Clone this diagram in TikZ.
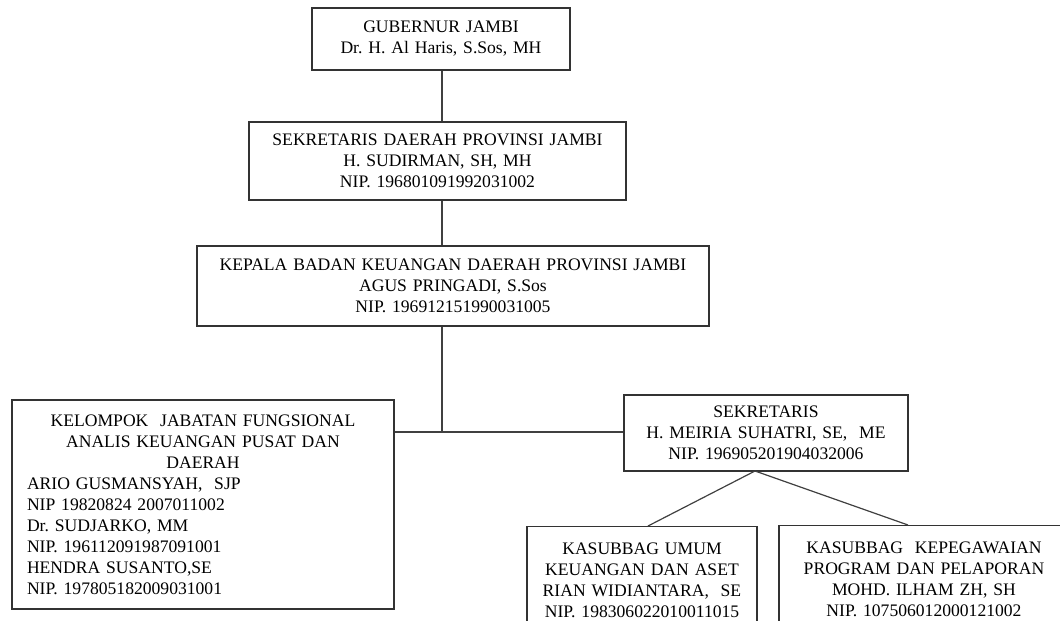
\documentclass[tikz,border=0pt]{standalone}
\usepackage{fontspec}
\setmainfont{Liberation Serif}
\begin{document}
\begin{tikzpicture}[x=0.75pt, y=-0.75pt,
  jabatan/.style={draw=black!80, line width=0.8pt, inner sep=0pt, align=center, font=\fontsize{13.2}{15.75}\selectfont},
  garis/.style={draw=black!75, line width=0.9pt}]
\useasboundingbox (0,0) rectangle (1060,621);
\clip (0,0) rectangle (1060,621);
\node (gubernur) at (441,39) [jabatan, text width=193.5pt, minimum height=46.5pt] {GUBERNUR\ JAMBI \\ Dr.\ H.\ Al Haris, S.Sos, MH};
\node (sekda) at (437.5,161) [jabatan, text width=282.75pt, minimum height=58.5pt] {SEKRETARIS\ DAERAH PROVINSI\ JAMBI \\ H.\ SUDIRMAN, SH, MH \\ NIP.\ 196801091992031002};
\node (kepala) at (453,286) [jabatan, text width=384pt, minimum height=60pt] {KEPALA BADAN\ KEUANGAN\ DAERAH PROVINSI\ JAMBI \\ AGUS PRINGADI, S.Sos \\ NIP.\ 196912151990031005};
\node (kelompok) at (203,504.5) [jabatan, align=left, text width=264pt, inner xsep=11.25pt, minimum height=156.75pt] {{\centering KELOMPOK\ \ JABATAN FUNGSIONAL \\ ANALIS KEUANGAN PUSAT DAN \\ DAERAH\par} ARIO GUSMANSYAH,\ \ SJP \\ NIP 19820824\ 2007011002 \\ Dr.\ SUDJARKO, MM \\ NIP.\ 196112091987091001 \\ HENDRA SUSANTO,SE \\ NIP.\ 197805182009031001};
\node (sekretaris) at (766,433) [jabatan, text width=213pt, minimum height=57pt] {SEKRETARIS \\ H.\ MEIRIA SUHATRI, SE,\ \ ME \\ NIP.\ 196905201904032006};
\node (umum) at (642,526) [jabatan, anchor=north, text width=172.5pt, inner ysep=12pt, minimum height=75pt] {KASUBBAG UMUM \\ KEUANGAN DAN ASET \\ RIAN WIDIANTARA,\ \ SE \\ NIP.\ 198306022010011015};
\node (kepegawaian) at (924,525) [jabatan, anchor=north, text width=217.5pt, inner ysep=12pt, minimum height=75pt] {KASUBBAG\ \ KEPEGAWAIAN \\ PROGRAM DAN PELAPORAN \\ MOHD.\ ILHAM ZH, SH \\ NIP.\ 107506012000121002};
\coordinate (batang) at (442,432);
\coordinate (cabang) at (755,471);
\draw [garis] (gubernur.south -| batang) -- (sekda.north -| batang);
\draw [garis] (sekda.south -| batang) -- (kepala.north -| batang);
\draw [garis] (kepala.south -| batang) -- (batang);
\draw [garis] (kelompok.east |- batang) -- (sekretaris.west |- batang);
\draw [garis] (cabang) -- ([xshift=4.5pt]umum.north);
\draw [garis] (cabang) -- ([xshift=-12pt]kepegawaian.north);
\end{tikzpicture}
\end{document}
